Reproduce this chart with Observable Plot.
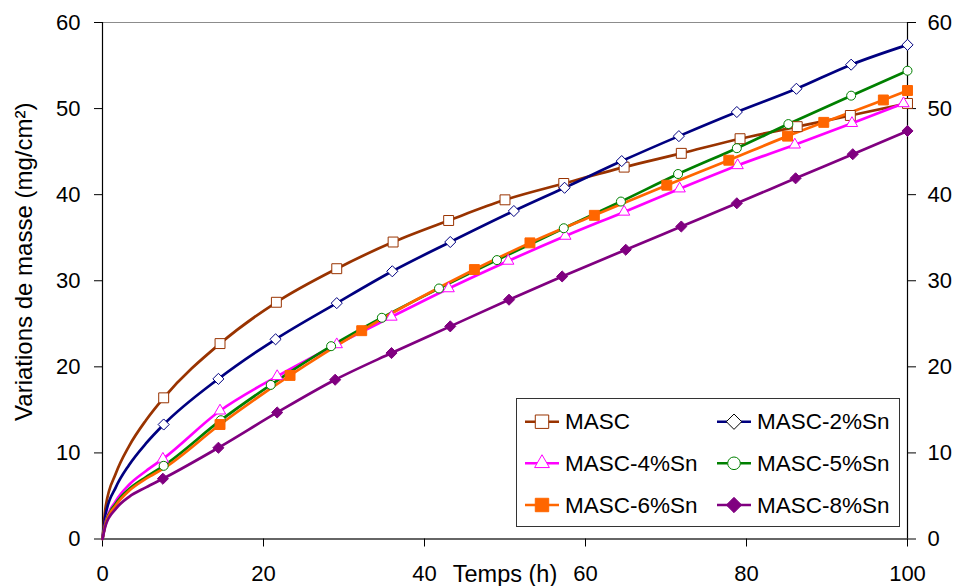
<!DOCTYPE html>
<html>
<head>
<meta charset="utf-8">
<script src="https://cdn.jsdelivr.net/npm/d3@7"></script>
<script src="https://cdn.jsdelivr.net/npm/@observablehq/plot@0.6"></script>
<style>
  body { margin: 0; background: #fff; }
  #wrap { position: relative; width: 957px; height: 586px; font-family: "Liberation Sans", Arial, sans-serif; }
  #legend { position: absolute; left: 516px; top: 398px; }
</style>
</head>
<body>
<div id="wrap"></div>
<script>
// ---- data ----
const seriesNames = ["MASC", "MASC-2%Sn", "MASC-4%Sn", "MASC-5%Sn", "MASC-6%Sn", "MASC-8%Sn"];
const seriesColors = ["#993300", "#000080", "#FF00FF", "#008000", "#FF6600", "#800080"];
const seriesSymbols = ["square", "diamond2", "triangle", "circle", "square", "diamond2"];
const seriesFilled = [false, false, false, false, true, true];

const xLabel = "Temps (h)";
const yLabel = "Variations de masse (mg/cm²)";
const xTicks = [0, 20, 40, 60, 80, 100];
const yTicks = [0, 10, 20, 30, 40, 50, 60];

// early part of each curve (no markers)
const earlyT = [0, 0.4, 1.65, 3.3, 5.4];
const earlyT6 = [0, 0.4, 1.65, 3.3, 5.4, 7.6];
const earlyMASC = [0, 3.8, 7.6, 10.8, 13.8];
const early2 = [0, 2.9, 6.0, 8.6, 11.1];
const early4 = [0, 2.0, 4.4, 6.3, 7.9];
const early5 = [0, 1.9, 4.1, 5.8, 7.2];
const early6 = [0, 1.8, 3.9, 5.6, 7.0, 8.2];
const early8 = [0, 1.6, 3.5, 4.9, 6.0];

// marker points
const tMASC = [7.6, 14.6, 21.6, 29.1, 36.1, 43.0, 50.0, 57.3, 64.8, 71.9, 79.2, 86.3, 92.9, 100];
const vMASC = [16.4, 22.7, 27.5, 31.4, 34.5, 37.0, 39.4, 41.3, 43.2, 44.8, 46.5, 47.9, 49.2, 50.6];
const t2 = [7.6, 14.4, 21.5, 29.1, 36.0, 43.2, 51.1, 57.4, 64.5, 71.6, 78.8, 86.2, 93.0, 100];
const v2 = [13.3, 18.6, 23.2, 27.4, 31.1, 34.5, 38.1, 40.8, 43.9, 46.8, 49.6, 52.3, 55.1, 57.4];
const t4 = [7.5, 14.6, 21.7, 29.1, 35.9, 43.0, 50.4, 57.5, 64.8, 71.7, 78.9, 86.0, 93.1, 99.5];
const v4 = [9.3, 14.9, 18.9, 22.6, 25.8, 29.1, 32.3, 35.2, 38.0, 40.7, 43.4, 45.8, 48.3, 50.6];
const t5 = [7.6, 14.7, 20.9, 28.4, 34.7, 41.8, 49.0, 57.3, 64.4, 71.5, 78.8, 85.2, 93.0, 100];
const v5 = [8.5, 13.8, 17.9, 22.4, 25.7, 29.1, 32.4, 36.1, 39.2, 42.4, 45.4, 48.2, 51.5, 54.4];
const t6 = [14.6, 23.3, 32.2, 46.2, 53.1, 61.1, 70.1, 77.8, 85.1, 89.6, 97.0, 100];
const v6 = [13.3, 19.0, 24.2, 31.3, 34.4, 37.6, 41.1, 44.0, 46.8, 48.4, 51.0, 52.1];
const t8 = [7.5, 14.4, 21.7, 28.9, 35.9, 43.2, 50.5, 57.1, 65.0, 71.9, 78.8, 86.1, 93.2, 100];
const v8 = [7.0, 10.6, 14.7, 18.5, 21.6, 24.7, 27.8, 30.5, 33.6, 36.3, 39.0, 41.9, 44.7, 47.4];

// ---- build tables ----
const earlyTs = [earlyT, earlyT, earlyT, earlyT, earlyT6, earlyT];
const earlyVs = [earlyMASC, early2, early4, early5, early6, early8];
const markT = [tMASC, t2, t4, t5, t6, t8];
const markV = [vMASC, v2, v4, v5, v6, v8];

const lineRows = [];
const dotRows = seriesNames.map(() => []);
seriesNames.forEach((s, i) => {
  earlyTs[i].forEach((t, j) => lineRows.push({series: s, t, v: earlyVs[i][j]}));
  markT[i].forEach((t, j) => {
    const r = {series: s, t, v: markV[i][j]};
    lineRows.push(r);
    dotRows[i].push(r);
  });
});

const symbolR = {square: 5.6, diamond2: 5.0, triangle: 4.2, circle: 4.5};

const dotMarks = seriesNames.map((s, i) => Plot.dot(dotRows[i], {
  x: "t", y: "v",
  symbol: () => seriesSymbols[i],
  r: symbolR[seriesSymbols[i]],
  stroke: seriesColors[i],
  strokeWidth: 1,
  fill: seriesFilled[i] ? seriesColors[i] : "#fff"
}));

const chart = Plot.plot({
  width: 957, height: 586,
  marginLeft: 102, marginRight: 50, marginTop: 22, marginBottom: 47.5,
  x: {domain: [0, 100]},
  y: {domain: [0, 60]},
  color: {domain: seriesNames, range: seriesColors},
  symbol: {domain: ["square", "diamond2", "triangle", "circle"], range: ["square", "diamond2", "triangle", "circle"]},
  style: {fontFamily: "'Liberation Sans', Arial, sans-serif", fontSize: "22px", color: "#000", background: "#fff"},
  marks: [
    Plot.frame({stroke: "#8c8c8c"}),
    Plot.ruleY([0], {stroke: "#666", strokeWidth: 2}),
    Plot.ruleX([0], {stroke: "#000", strokeWidth: 1.2}),
    Plot.ruleX([100], {stroke: "#000", strokeWidth: 1.2}),
    Plot.axisY({anchor: "left", ticks: yTicks, tickSize: 8, tickPadding: 14, label: null}),
    Plot.axisY({anchor: "right", ticks: yTicks, tickSize: 8, tickPadding: 12, label: null}),
    Plot.axisX({anchor: "bottom", ticks: xTicks, tickSize: 8, tickPadding: 18, label: null}),
    Plot.text([xLabel], {frameAnchor: "bottom", dy: 42.5, lineAnchor: "bottom", fontSize: 23.5, text: d => d}),
    Plot.text([yLabel], {frameAnchor: "left", rotate: -90, dx: -71, dy: -19, lineAnchor: "bottom", textAnchor: "middle", fontSize: 24, text: d => d}),
    Plot.line(lineRows, {x: "t", y: "v", z: "series", stroke: "series", strokeWidth: 2.7, curve: "monotone-x"}),
    ...dotMarks
  ]
});
document.getElementById("wrap").appendChild(chart);

// ---- legend (inside plot area, lower right) ----
const legW = 384, legH = 129;
const leg = d3.create("svg").attr("id", "legend").attr("width", legW).attr("height", legH)
  .style("font-family", "'Liberation Sans', Arial, sans-serif");
leg.append("rect").attr("x", 0.5).attr("y", 0.5).attr("width", legW - 1).attr("height", legH - 1)
  .attr("fill", "#fff").attr("stroke", "#333").attr("stroke-width", 1);
const colX = [9, 201];
const rowY = [23.7, 65.3, 107];
const legSym = {
  square: d3.symbol(d3.symbolSquare, 180),
  diamond2: d3.symbol(d3.symbolDiamond2, 150),
  triangle: d3.symbol(d3.symbolTriangle, 95),
  circle: d3.symbol(d3.symbolCircle, 125)
};
seriesNames.forEach((s, i) => {
  const cx = colX[i % 2], cy = rowY[Math.floor(i / 2)];
  const g = leg.append("g");
  g.append("line").attr("x1", cx).attr("x2", cx + 34).attr("y1", cy).attr("y2", cy)
    .attr("stroke", seriesColors[i]).attr("stroke-width", 2.5);
  g.append("path").attr("d", legSym[seriesSymbols[i]]())
    .attr("transform", `translate(${cx + 17},${cy})`)
    .attr("fill", seriesFilled[i] ? seriesColors[i] : "#fff")
    .attr("stroke", i === 1 ? "#000" : seriesColors[i]).attr("stroke-width", 1);
  g.append("text").attr("x", cx + 40).attr("y", cy + 7.5).attr("font-size", "22.5px").attr("fill", "#000").text(s);
});
document.getElementById("wrap").appendChild(leg.node());
</script>
</body>
</html>
